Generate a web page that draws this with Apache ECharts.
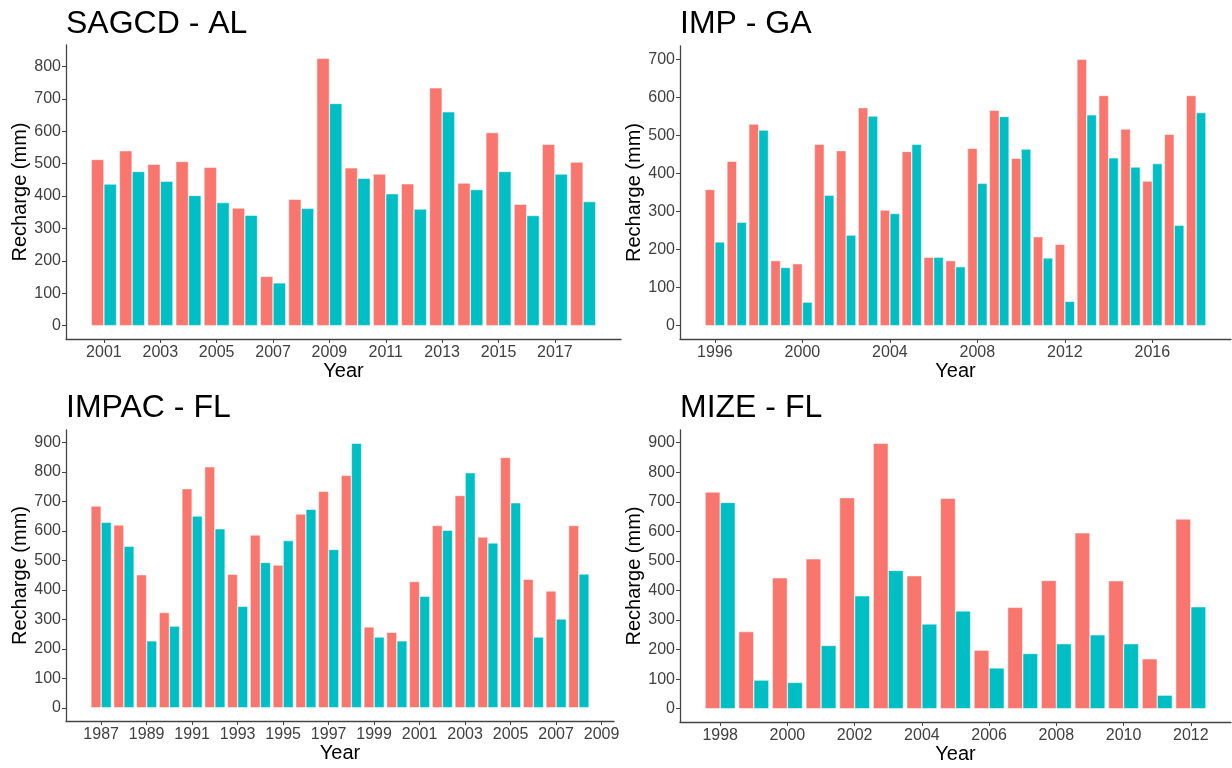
<!DOCTYPE html>
<html>
<head>
<meta charset="utf-8">
<script src="https://cdn.jsdelivr.net/npm/echarts@6/dist/echarts.min.js"></script>
<style>
html,body{margin:0;padding:0;background:#fff;}
#chart{width:1232px;height:768px;}
</style>
</head>
<body>
<div id="chart"></div>
<script>
// ---- Data ----
const titles = ['SAGCD - AL', 'IMP - GA', 'IMPAC - FL', 'MIZE - FL'];

const yearsSAGCD = [2001,2002,2003,2004,2005,2006,2007,2008,2009,2010,2011,2012,2013,2014,2015,2016,2017,2018];
const redSAGCD  = [513,540,498,507,489,363,152,390,825,487,468,438,734,440,596,375,560,505];
const cyanSAGCD = [437,476,446,402,380,341,132,362,686,455,407,360,660,420,476,340,468,383];
const xTicksSAGCD = [2001,2003,2005,2007,2009,2011,2013,2015,2017];
const yTicksSAGCD = [0,100,200,300,400,500,600,700,800];

const yearsIMP = [1996,1997,1998,1999,2000,2001,2002,2003,2004,2005,2006,2007,2008,2009,2010,2011,2012,2013,2014,2015,2016,2017,2018];
const redIMP  = [358,432,530,171,163,477,460,573,304,458,180,171,466,566,440,234,214,700,605,517,380,503,605];
const cyanIMP = [220,272,514,153,62,343,238,551,295,477,180,155,374,550,464,178,64,554,441,417,426,264,560];
const xTicksIMP = [1996,2000,2004,2008,2012,2016];
const yTicksIMP = [0,100,200,300,400,500,600,700];

const yearsIMPAC = [1987,1988,1989,1990,1991,1992,1993,1994,1995,1996,1997,1998,1999,2000,2001,2002,2003,2004,2005,2006,2007,2008];
const redIMPAC  = [684,620,451,323,743,817,453,586,484,657,734,788,274,256,428,618,720,579,849,436,396,618];
const cyanIMPAC = [629,548,227,277,650,607,344,493,567,673,537,897,240,227,378,602,797,559,695,240,301,454];
const xTicksIMPAC = [1987,1989,1991,1993,1995,1997,1999,2001,2003,2005,2007,2009];
const yTicksIMPAC = [0,100,200,300,400,500,600,700,800,900];

const yearsMIZE = [1998,1999,2000,2001,2002,2003,2004,2005,2006,2007,2008,2009,2010,2011,2012];
const redMIZE  = [733,261,443,507,714,898,450,712,198,343,434,595,433,169,642];
const cyanMIZE = [698,97,89,214,382,468,287,331,138,187,220,250,220,46,345];
const xTicksMIZE = [1998,2000,2002,2004,2006,2008,2010,2012];
const yTicksMIZE = [0,100,200,300,400,500,600,700,800,900];

const panels = [
  {years: yearsSAGCD, red: redSAGCD, cyan: cyanSAGCD, xt: xTicksSAGCD, yt: yTicksSAGCD},
  {years: yearsIMP, red: redIMP, cyan: cyanIMP, xt: xTicksIMP, yt: yTicksIMP},
  {years: yearsIMPAC, red: redIMPAC, cyan: cyanIMPAC, xt: xTicksIMPAC, yt: yTicksIMPAC},
  {years: yearsMIZE, red: redMIZE, cyan: cyanMIZE, xt: xTicksMIZE, yt: yTicksMIZE}
];

// ---- Layout ----
const grids = [
  {left: 66, top: 45, width: 555, height: 294},
  {left: 680, top: 46, width: 551, height: 293},
  {left: 66, top: 430, width: 548, height: 291},
  {left: 680, top: 430, width: 551, height: 292}
];
const titlePos = [
  {left: 66, top: 8}, {left: 680, top: 8}, {left: 66, top: 392}, {left: 680, top: 392}
];

const RED = '#F8766D', CYAN = '#00BFC4';
const axisColor = '#444444';
const labelColor = '#404040';
const font = 'Liberation Sans, Arial, sans-serif';

const option = {
  animation: false,
  backgroundColor: '#ffffff',
  title: [], grid: [], xAxis: [], yAxis: [], series: []
};

panels.forEach((p, i) => {
  const first = p.years[0], last = p.years[p.years.length - 1];
  const lo = first - 0.45, hi = last + 0.45, span = hi - lo;
  const maxV = Math.max(...p.red, ...p.cyan);
  option.title.push({
    text: titles[i], left: titlePos[i].left, top: titlePos[i].top, padding: 0,
    textStyle: {fontFamily: font, fontSize: 32, fontWeight: 'normal', color: '#000'}
  });
  option.grid.push(Object.assign({containLabel: false}, grids[i]));
  option.xAxis.push({
    type: 'value', gridIndex: i,
    min: lo - 0.05 * span, max: hi + 0.05 * span,
    name: 'Year', nameLocation: 'middle', nameGap: 22,
    nameTextStyle: {fontFamily: font, fontSize: 20, color: '#000'},
    axisLine: {show: true, onZero: false, lineStyle: {color: axisColor, width: 1.3}},
    axisTick: {show: true, length: 4, customValues: p.xt, lineStyle: {color: axisColor, width: 1}},
    axisLabel: {customValues: p.xt, margin: 6, fontFamily: font, fontSize: 16, color: labelColor,
      formatter: v => String(v)},
    splitLine: {show: false}
  });
  option.yAxis.push({
    type: 'value', gridIndex: i,
    min: -0.05 * maxV, max: 1.05 * maxV,
    name: 'Recharge (mm)', nameLocation: 'middle', nameGap: 34, nameRotate: 90,
    nameTextStyle: {fontFamily: font, fontSize: 20, color: '#000'},
    axisLine: {show: true, onZero: false, lineStyle: {color: axisColor, width: 1.3}},
    axisTick: {show: true, length: 4, customValues: p.yt, lineStyle: {color: axisColor, width: 1}},
    axisLabel: {customValues: p.yt, margin: 5, fontFamily: font, fontSize: 16, color: labelColor,
      formatter: v => String(v)},
    splitLine: {show: false}
  });
  const mk = (vals, color) => ({
    type: 'bar', xAxisIndex: i, yAxisIndex: i,
    data: p.years.map((y, k) => [y, vals[k]]),
    barWidth: '45%', barGap: '0%',
    itemStyle: {color: color, borderColor: '#ffffff', borderWidth: 0.5},
    emphasis: {disabled: true}
  });
  option.series.push(mk(p.red, RED), mk(p.cyan, CYAN));
});

const chart = echarts.init(document.getElementById('chart'), null, {renderer: 'canvas'});
chart.setOption(option);
</script>
</body>
</html>
